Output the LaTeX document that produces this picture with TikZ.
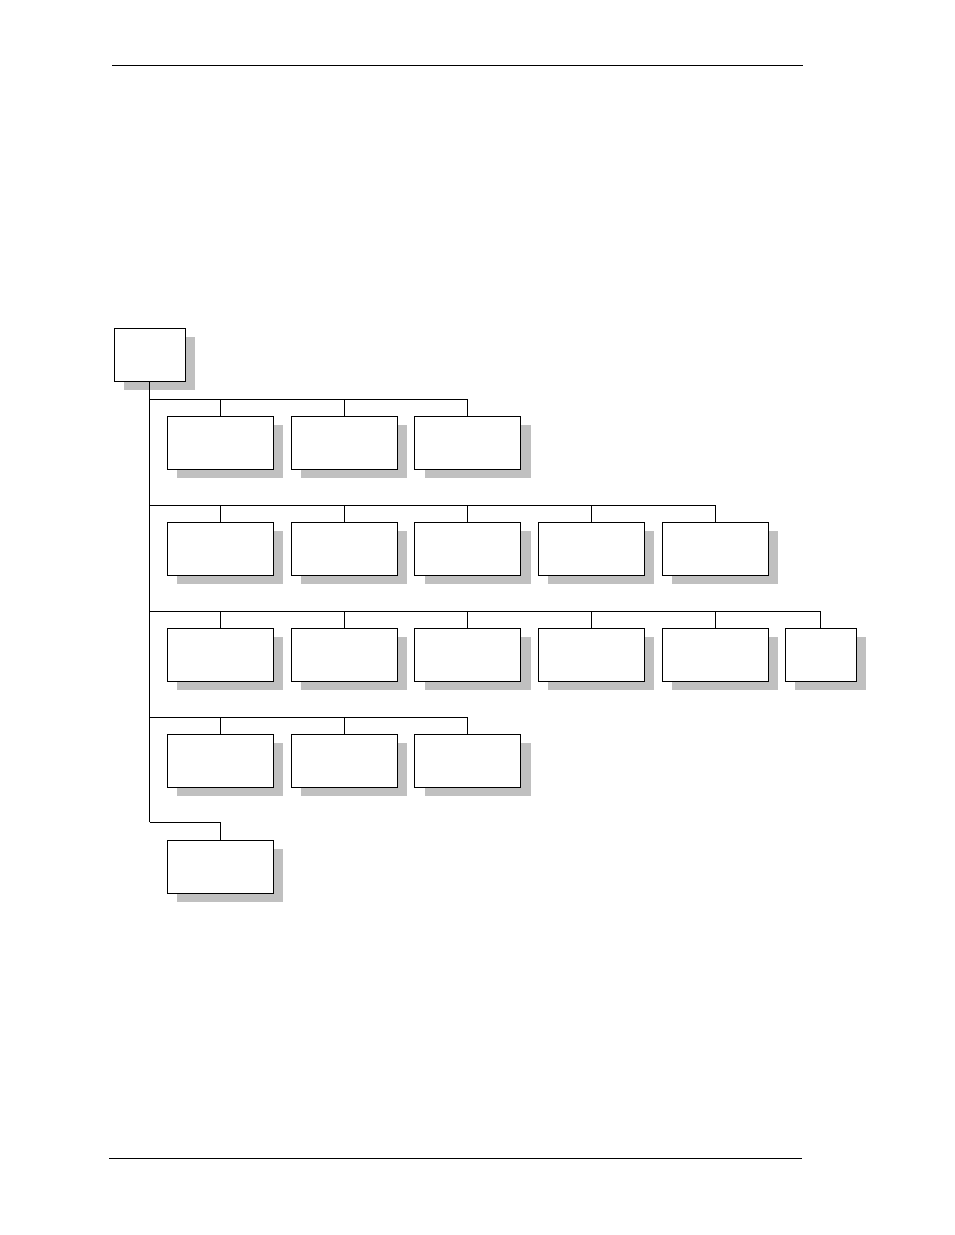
\documentclass[tikz,border=0pt]{standalone}
\usetikzlibrary{shadows}
\definecolor{shadowgray}{RGB}{192,192,192}
\tikzset{
  x=1pt, y=-1pt,
  line/.style={line width=0.9pt, black},
  orgbox/.style={draw=black, line width=0.9pt, fill=white, inner sep=0pt,
    minimum width=106pt, minimum height=53pt,
    general shadow={fill=shadowgray, shadow xshift=10pt, shadow yshift=-9pt}},
  smallbox/.style={orgbox, minimum width=71pt},
}
\begin{document}
\begin{tikzpicture}
\useasboundingbox (0,0) rectangle (954,1235);
% page rules
\coordinate (rt1) at (112,65); \coordinate (rt2) at (803,65);
\coordinate (rb1) at (109,1158); \coordinate (rb2) at (802,1158);
\draw[line] (rt1) -- (rt2);
\draw[line] (rb1) -- (rb2);
% nodes
\node[smallbox] (root) at (149.5,354.5) {};
\foreach \n/\x in {1/220,2/344,3/467.5}
  \node[orgbox] (a\n) at (\x,442.5) {};
\foreach \n/\x in {1/220,2/344,3/467.5,4/591,5/715}
  \node[orgbox] (b\n) at (\x,548.5) {};
\foreach \n/\x in {1/220,2/344,3/467.5,4/591,5/715}
  \node[orgbox] (c\n) at (\x,654.5) {};
\node[smallbox] (c6) at (820.5,654.5) {};
\foreach \n/\x in {1/220,2/344,3/467.5}
  \node[orgbox] (d\n) at (\x,760.5) {};
\node[orgbox] (e1) at (220,866.5) {};
% junctions on the trunk
\coordinate (ja) at (149.5,399);
\coordinate (jb) at (149.5,505);
\coordinate (jc) at (149.5,611);
\coordinate (jd) at (149.5,717);
\coordinate (je) at (149.5,822);
% trunk
\draw[line] (root.south) -- (je);
% buses
\draw[line] (ja) -| (a3.north);
\foreach \n in {1,2} \draw[line] (a\n.north) -- (a\n.north |- ja);
\draw[line] (jb) -| (b5.north);
\foreach \n in {1,...,4} \draw[line] (b\n.north) -- (b\n.north |- jb);
\draw[line] (jc) -| (c6.north);
\foreach \n in {1,...,5} \draw[line] (c\n.north) -- (c\n.north |- jc);
\draw[line] (jd) -| (d3.north);
\foreach \n in {1,2} \draw[line] (d\n.north) -- (d\n.north |- jd);
\draw[line] (je) -| (e1.north);
\end{tikzpicture}
\end{document}
